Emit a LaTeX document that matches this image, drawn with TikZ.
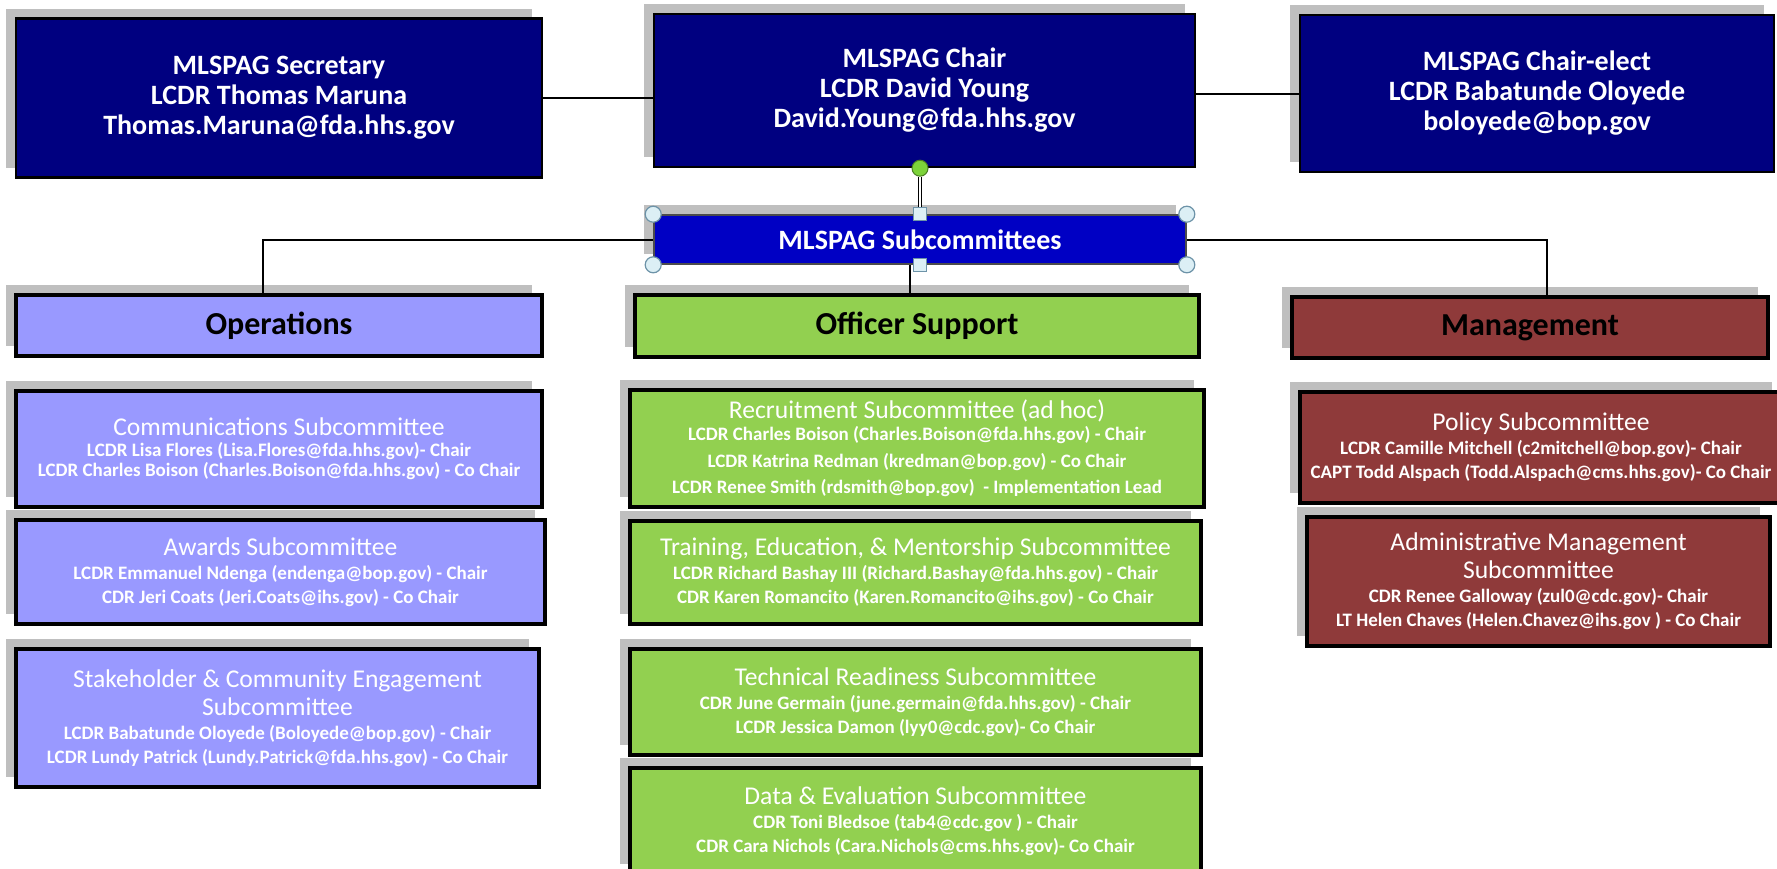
\documentclass[tikz,border=0pt]{standalone}
\usepackage{fontspec}
\setmainfont{Carlito}
\usetikzlibrary{positioning, shadows}
\definecolor{navy}{HTML}{000080}
\definecolor{barblue}{HTML}{0000C4}
\definecolor{opsblue}{HTML}{9999FF}
\definecolor{supgreen}{HTML}{92D050}
\definecolor{mgtred}{HTML}{8F3A3A}
\definecolor{hdlfill}{HTML}{DCEFF5}
\definecolor{hdldraw}{HTML}{6D93A8}
\definecolor{rotgreen}{HTML}{7DD33A}
\tikzset{
  box/.style={draw=black, line width=1.8pt, align=center, inner sep=0pt,
    drop shadow={shadow xshift=-5pt, shadow yshift=5pt, fill=black!25, opacity=1}},
  topbox/.style={box, fill=navy, line width=1.2pt, text=white,
    font=\fontsize{14}{15}\selectfont\bfseries},
  barbox/.style={box, fill=barblue, draw=black!70, line width=0.8pt, text=white,
    font=\fontsize{14}{15}\selectfont\bfseries},
  headbox/.style={box, text=black, font=\fontsize{16}{18}\selectfont\bfseries},
  subbox/.style={box, text=white, font=\fontsize{9.5}{12}\selectfont\bfseries},
  hround/.style={circle, draw=hdldraw, fill=hdlfill, line width=0.6pt,
    minimum size=8pt, inner sep=0pt},
  hsquare/.style={rectangle, draw=hdldraw, fill=hdlfill, line width=0.6pt,
    minimum size=6.5pt, inner sep=0pt},
  hrot/.style={circle, draw=rotgreen!60!black, fill=rotgreen, line width=0.5pt,
    minimum size=8pt, inner sep=0pt},
  conn/.style={draw=black, line width=1pt}
}
\newcommand{\sct}[1]{{\fontsize{12.8}{12}\selectfont\mdseries #1}}

\begin{document}
\begin{tikzpicture}[x=0.5pt, y=-0.5pt, line width=1pt]
\fill[white] (0,0) rectangle (1777,868);
\useasboundingbox (0,0) rectangle (1777,868);

% officers
\node[topbox, minimum width=263pt, minimum height=79.5pt] (sec) at (279,98)
  {MLSPAG Secretary\\LCDR Thomas Maruna\\Thomas.Maruna@fda.hhs.gov};
\node[topbox, minimum width=270.5pt, minimum height=76.5pt] (chair) at (924.5,90.5)
  {MLSPAG Chair\\LCDR David Young\\David.Young@fda.hhs.gov};
\node[topbox, minimum width=237pt, minimum height=78.5pt] (elect) at (1537,93.5)
  {MLSPAG Chair-elect\\LCDR Babatunde Oloyede\\boloyede@bop.gov};

\node[barbox, minimum width=266pt, minimum height=24.5pt] (sub) at (920,239.5)
  {MLSPAG Subcommittees};

% groups
\node[headbox, fill=opsblue, minimum width=263pt, minimum height=30.5pt] (ops) at (279,325.5) {Operations};
\node[headbox, fill=supgreen, minimum width=282pt, minimum height=31pt] (sup) at (917,326) {Officer Support};
\node[headbox, fill=mgtred, minimum width=238pt, minimum height=30.5pt] (mgt) at (1530,327.5) {Management};

% operations
\node[subbox, fill=opsblue, minimum width=263pt, minimum height=58pt] (comm) at (279,449)
  {\sct{Communications Subcommittee}\\[-1.5pt]
   LCDR Lisa Flores (Lisa.Flores@fda.hhs.gov)- Chair\\[-2pt]
   LCDR Charles Boison (Charles.Boison@fda.hhs.gov) - Co Chair};
\node[subbox, fill=opsblue, minimum width=264.5pt, minimum height=52pt] (award) at (280.5,572)
  {\sct{Awards Subcommittee}\\
   LCDR Emmanuel Ndenga (endenga@bop.gov) - Chair\\
   CDR Jeri Coats (Jeri.Coats@ihs.gov) - Co Chair};
\node[subbox, fill=opsblue, minimum width=261.5pt, minimum height=69pt] (stake) at (277.5,718)
  {\sct{Stakeholder \& Community Engagement}\\[2pt]
   \sct{Subcommittee}\\
   LCDR Babatunde Oloyede (Boloyede@bop.gov) - Chair\\
   LCDR Lundy Patrick (Lundy.Patrick@fda.hhs.gov) - Co Chair};

% officer support
\node[subbox, fill=supgreen, minimum width=287pt, minimum height=58.5pt] (recr) at (917,448.5)
  {\sct{Recruitment Subcommittee (ad hoc)}\\[-1pt]
   LCDR Charles Boison (Charles.Boison@fda.hhs.gov) - Chair\\[1.3pt]
   LCDR Katrina Redman (kredman@bop.gov) - Co Chair\\[1.3pt]
   LCDR Renee Smith (rdsmith@bop.gov) \ - Implementation Lead};
\node[subbox, fill=supgreen, minimum width=285.5pt, minimum height=51.5pt] (train) at (915.5,572.5)
  {\sct{Training, Education, \& Mentorship Subcommittee}\\
   LCDR Richard Bashay III (Richard.Bashay@fda.hhs.gov) - Chair\\
   CDR Karen Romancito (Karen.Romancito@ihs.gov) - Co Chair};
\node[subbox, fill=supgreen, minimum width=285.5pt, minimum height=53pt] (tech) at (915.5,702)
  {\sct{Technical Readiness Subcommittee}\\
   CDR June Germain (june.germain@fda.hhs.gov) - Chair\\
   LCDR Jessica Damon (lyy0@cdc.gov)- Co Chair};
\node[subbox, fill=supgreen, minimum width=285.5pt, minimum height=53pt] (data) at (915.5,821)
  {\sct{Data \& Evaluation Subcommittee}\\
   CDR Toni Bledsoe (tab4@cdc.gov ) - Chair\\
   CDR Cara Nichols (Cara.Nichols@cms.hhs.gov)- Co Chair};

% management
\node[subbox, fill=mgtred, minimum width=241pt, minimum height=55.5pt] (pol) at (1541,447.5)
  {\sct{Policy Subcommittee}\\
   LCDR Camille Mitchell (c2mitchell@bop.gov)- Chair\\
   CAPT Todd Alspach (Todd.Alspach@cms.hhs.gov)- Co Chair};
\node[subbox, fill=mgtred, minimum width=231.5pt, minimum height=64.5pt] (adm) at (1538.5,581.5)
  {\sct{Administrative Management}\\[2pt]
   \sct{Subcommittee}\\
   CDR Renee Galloway (zul0@cdc.gov)- Chair\\
   LT Helen Chaves (Helen.Chavez@ihs.gov ) - Co Chair};

% connectors
\path[conn] (sec.east) -- (sec.east -| chair.west);
\path[conn] (elect.west) -- (elect.west -| chair.east);
\path[conn] (sub.west) -| ([xshift=-8pt]ops.north);
\path[conn] (sub.east) -| ([xshift=8.5pt]mgt.north);
\path[conn] ([xshift=-5pt]sub.south) -- ([xshift=-5pt]sub.south |- sup.north);

% selection handles
\node[hrot] (rot) at (sub.north |- chair.south) {};
\node[hsquare] (htop) at (sub.north) {};
\node[hsquare] (hbot) at (sub.south) {};
\draw[double=white, double distance=1.4pt, line width=0.5pt] (rot) -- (htop);
\foreach \c/\n in {north west/1, north east/2, south west/3, south east/4}
  \node[hround] (hc\n) at (sub.\c) {};
\end{tikzpicture}
\end{document}
